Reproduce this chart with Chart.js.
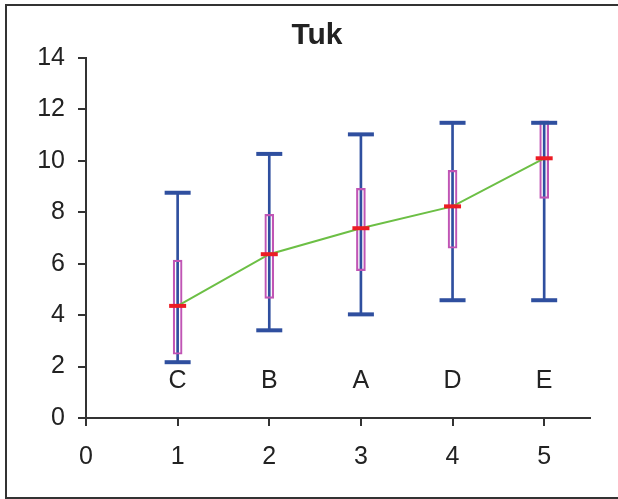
<!DOCTYPE html>
<html>
<head>
<meta charset="utf-8">
<script src="https://cdn.jsdelivr.net/npm/chart.js@4/dist/chart.umd.min.js"></script>
<style>
  body { margin: 0; background: #fff; }
  #wrap { position: relative; width: 618px; height: 499px; }
  #frame {
    position: absolute; left: 5px; top: 4px; width: 620px; height: 491px;
    border: 2px solid #333; pointer-events: none;
  }
  canvas { position: absolute; left: 0; top: 0; }
</style>
</head>
<body>
<div id="wrap">
  <canvas id="tukChart" width="618" height="499"></canvas>
  <div id="frame"></div>
</div>
<script>
// Tukey-style summary per group
const xs = [1, 2, 3, 4, 5];
const groups = ['C', 'B', 'A', 'D', 'E'];
const mins = [2.17, 3.41, 4.03, 4.58, 4.58];
const maxs = [8.76, 10.27, 11.03, 11.48, 11.48];
const q1s = [2.48, 4.65, 5.73, 6.60, 8.54];
const q3s = [6.14, 7.92, 8.93, 9.63, 11.56];
const means = [4.36, 6.37, 7.38, 8.23, 10.10];
const yTicks = [0, 2, 4, 6, 8, 10, 12, 14];
const xTicks = [0, 1, 2, 3, 4, 5];
const labelLevel = 1.42;

const blue = '#2f4f9f';
const magenta = '#c055b5';
const red = '#ec1c24';
const green = '#6cbf45';
const axisColor = '#333';
const font = "'Liberation Sans', Arial, sans-serif";

const groupLabels = {
  id: 'groupLabels',
  afterDatasetsDraw(chart) {
    const ctx = chart.ctx;
    const xScale = chart.scales.x, yScale = chart.scales.y;
    ctx.save();
    ctx.font = '25px ' + font;
    ctx.fillStyle = '#222';
    ctx.textAlign = 'center';
    ctx.textBaseline = 'middle';
    groups.forEach((g, i) => {
      ctx.fillText(g, xScale.getPixelForValue(xs[i]), yScale.getPixelForValue(labelLevel));
    });
    ctx.restore();
  }
};

window.onload = function() {
  const ctx = document.getElementById('tukChart').getContext('2d');
  new Chart(ctx, {
    type: 'bar',
    data: {
      datasets: [
        {
          type: 'bar',
          data: xs.map((x, i) => ({ x: x, y: [mins[i], maxs[i]] })),
          backgroundColor: blue,
          barThickness: 2,
          grouped: false,
          order: 5
        },
        {
          type: 'bar',
          data: xs.map((x, i) => ({ x: x, y: [q1s[i], q3s[i]] })),
          backgroundColor: 'rgba(0,0,0,0)',
          borderColor: magenta,
          borderWidth: 1.5,
          borderSkipped: false,
          barThickness: 9,
          grouped: false,
          order: 4
        },
        {
          type: 'scatter',
          data: xs.map((x, i) => ({ x: x, y: maxs[i] })),
          pointStyle: 'line',
          pointRadius: 13,
          borderWidth: 4,
          borderColor: blue,
          order: 3
        },
        {
          type: 'scatter',
          data: xs.map((x, i) => ({ x: x, y: mins[i] })),
          pointStyle: 'line',
          pointRadius: 13,
          borderWidth: 4,
          borderColor: blue,
          order: 3
        },
        {
          type: 'line',
          data: xs.map((x, i) => ({ x: x, y: means[i] })),
          borderColor: green,
          borderWidth: 2,
          tension: 0,
          pointStyle: 'line',
          pointRadius: 8.5,
          pointBorderWidth: 4,
          pointBorderColor: red,
          order: 1
        }
      ]
    },
    options: {
      responsive: false,
      animation: false,
      events: [],
      layout: { padding: { left: 16, right: 0, top: 0, bottom: 0 } },
      plugins: {
        legend: { display: false },
        tooltip: { enabled: false },
        title: {
          display: true,
          text: 'Tuk',
          color: '#222',
          font: { family: font, size: 30, weight: 'bold' },
          padding: { top: 18, bottom: 4 }
        }
      },
      scales: {
        x: {
          type: 'linear',
          min: xTicks[0],
          max: 5.5,
          offset: false,
          afterFit: s => { s.height = 81; },
          grid: { offset: false, drawOnChartArea: false, drawTicks: true, tickLength: 8, color: axisColor, tickColor: axisColor, lineWidth: 2, tickWidth: 2 },
          border: { color: axisColor, width: 2 },
          ticks: {
            stepSize: xTicks[1] - xTicks[0],
            includeBounds: false,
            padding: 16,
            color: '#222',
            font: { family: font, size: 25 }
          }
        },
        y: {
          type: 'linear',
          min: yTicks[0],
          max: yTicks[yTicks.length - 1],
          afterFit: s => { s.width = 70; },
          grid: { offset: false, drawOnChartArea: false, drawTicks: true, tickLength: 8, color: axisColor, tickColor: axisColor, lineWidth: 2, tickWidth: 2 },
          border: { color: axisColor, width: 2 },
          ticks: {
            stepSize: yTicks[1] - yTicks[0],
            padding: 13,
            color: '#222',
            font: { family: font, size: 25 }
          }
        },
        // empty right-hand box so the plot ends at the same place as the reference
        y2: {
          position: 'right',
          display: true,
          afterFit: s => { s.width = 28; },
          grid: { display: false },
          border: { display: false },
          ticks: { display: false }
        }
      }
    },
    plugins: [groupLabels]
  });
};
</script>
</body>
</html>
